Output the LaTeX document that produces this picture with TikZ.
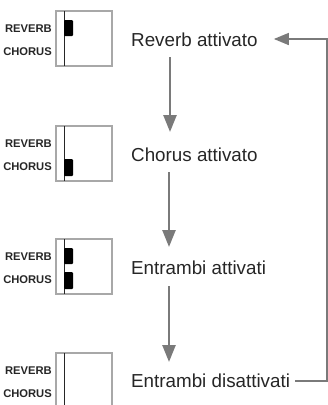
\documentclass[tikz,border=0pt]{standalone}
\usepackage{fontspec}
\setmainfont{Liberation Sans}
\usetikzlibrary{arrows.meta,calc}
\definecolor{boxgray}{HTML}{A8A8A8}
\definecolor{arrgray}{HTML}{7A7A7A}
\tikzset{
  boxst/.style={draw=boxgray,line width=2pt,fill=white},
  innerline/.style={draw=black!85,line width=0.9pt},
  bar/.style={fill=black,rounded corners=1pt},
  lbl/.style={anchor=east,inner sep=0pt,font=\fontsize{11.2}{13}\selectfont\bfseries,text=black!85},
  state/.style={anchor=west,inner sep=0pt,font=\fontsize{18.8}{22}\selectfont,text=black!85},
  varr/.style={draw=arrgray,line width=2.5pt,-{Triangle[width=13pt,length=17pt]}},
  harr/.style={draw=arrgray,line width=1.5pt,-{Triangle[width=12pt,length=15pt]}},
}
\begin{document}
\begin{tikzpicture}[x=1pt,y=-1pt]
\useasboundingbox (0,0) rectangle (328,405);
\clip (0,0) rectangle (328,405);
% panels
\foreach \top/\rv/\ch [count=\i] in {10/1/0,125/0/1,238/1/1,352/0/0}{
  \begin{scope}[shift={(0,\top)}]
    \draw[boxst] (56,1) rectangle (112,{\i==4 ? 80 : 56});
    \draw[innerline] (64.5,1) -- (64.5,{\i==4 ? 80 : 56});
    \ifnum\rv=1 \fill[bar] (64,10) rectangle (73,26); \fi
    \ifnum\ch=1 \fill[bar] (64,34) rectangle (73,51); \fi
    \node[lbl] (rv\i) at (52,19) {REVERB};
    \node[lbl] (ch\i) at (52,42) {CHORUS};
  \end{scope}
}
% states
\node[state] (t1) at (131,40) {Reverb attivato};
\node[state] (t2) at (131,155) {Chorus attivato};
\node[state] (t3) at (131,268) {Entrambi attivati};
\node[state] (t4) at (131,381) {Entrambi disattivati};
\coordinate (rx) at (327,0);
% arrows
\draw[varr] ($(t1.west)+(39,17)$) -- ($(t2.west)+(39,-23)$);
\draw[varr] ($(t2.west)+(38,17)$) -- ($(t3.west)+(38,-21)$);
\draw[varr] ($(t3.west)+(38,18)$) -- ($(t4.west)+(38,-19)$);
\draw[harr] ($(t4.east)+(5,0)$) -- (t4.east -| rx) -- ($(t1.east -| rx)+(0,-1)$) -- ($(t1.east)+(16,-1)$);
\end{tikzpicture}
\end{document}
